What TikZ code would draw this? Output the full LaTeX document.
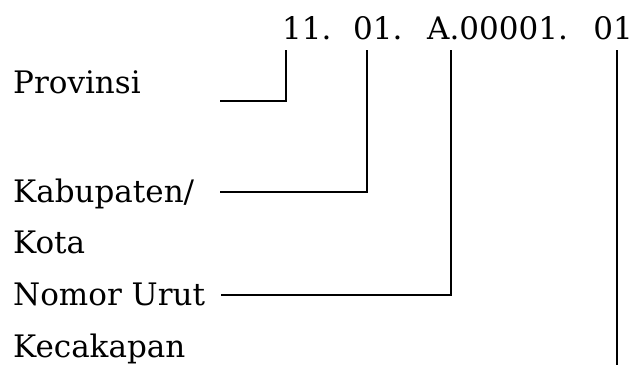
\documentclass[tikz,border=0pt]{standalone}
\usepackage{fontspec}
\setmainfont{DejaVu Serif}
\begin{document}
\begin{tikzpicture}[x=1pt,y=-1pt,
  lbl/.style={anchor=base west,inner sep=0pt,font=\fontsize{31}{37}\selectfont},
  conn/.style={line width=1.3pt,line cap=butt,line join=miter}]
\useasboundingbox[fill=white] (0,0) rectangle (638,365);
% code segments
\node[lbl] (cA) at (282,39) {11.};
\node[lbl] (cB) at (353,39) {01.};
\node[lbl] (cC) at (427,39) {A.00001.};
\node[lbl,anchor=base east] (cD) at (633,39) {01};
% labels
\node[lbl] (prov) at (13,93) {Provinsi};
\node[lbl] (kab) at (13,202) {Kabupaten/};
\node[lbl] (kota) at (13,253) {Kota};
\node[lbl] (nom) at (13,305) {Nomor Urut};
\node[lbl] (kec) at (13,357) {Kecakapan};
% connector starts (below the code) and ends
\coordinate (sA) at (286,50);
\coordinate (sB) at (367,50);
\coordinate (sC) at (451,50);
\coordinate (sD) at (617,50);
\coordinate (eA) at (220,101);
\coordinate (eB) at (220,192);
\coordinate (eC) at (221,295);
\coordinate (eD) at (617,365);
\draw[conn] (sA) |- (eA);
\draw[conn] (sB) |- (eB);
\draw[conn] (sC) |- (eC);
\draw[conn] (sD) -- (eD);
\end{tikzpicture}
\end{document}
